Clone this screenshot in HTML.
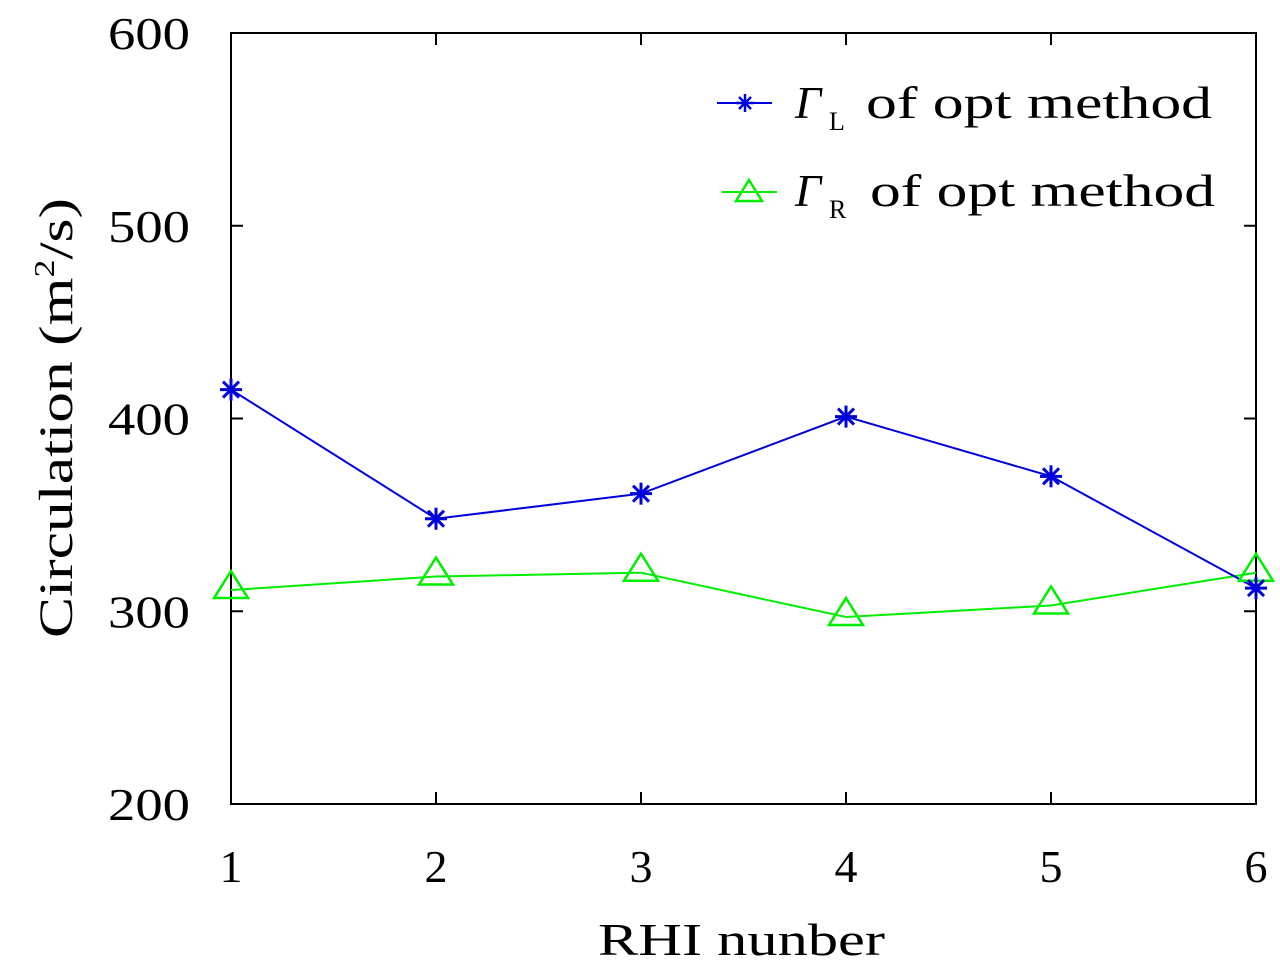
<!DOCTYPE html>
<html><head><meta charset="utf-8"><style>
html,body{margin:0;padding:0;background:#fff;}
svg{display:block;font-family:"Liberation Serif",serif;}
</style></head><body>
<svg id="chart" width="1280" height="970">
<rect x="231" y="33" width="1025" height="771" fill="none" stroke="#000" stroke-width="2"/>
<g id="ticks"></g>
<g id="series"></g>
<text x="598" y="955" font-size="46" textLength="287" lengthAdjust="spacingAndGlyphs">RHI nunber</text>
<text transform="translate(72,638) rotate(-90)" font-size="48" textLength="440" lengthAdjust="spacingAndGlyphs">Circulation (m<tspan font-size="28" dy="-18">2</tspan><tspan dy="18">/s)</tspan></text>
<g>
<g>
<line x1="717" y1="103" x2="772" y2="103" stroke="#0000dd" stroke-width="2"/>
<g stroke="#0000dd" stroke-width="2.5"><line x1="736" y1="103" x2="754" y2="103"/><line x1="745" y1="94" x2="745" y2="112"/><line x1="739" y1="97" x2="751" y2="109"/><line x1="751" y1="97" x2="739" y2="109"/></g>
<text x="795" y="118" font-size="46" font-style="italic">Γ</text>
<text x="829" y="130" font-size="26">L</text>
<text x="866" y="118" font-size="46" textLength="346" lengthAdjust="spacingAndGlyphs">of opt method</text>
</g>
<g>
<line x1="722" y1="192" x2="777" y2="192" stroke="#00ee00" stroke-width="2"/>
<polygon points="749,180 762,201 736,201" fill="none" stroke="#00ee00" stroke-width="2.5"/>
<text x="795" y="206" font-size="46" font-style="italic">Γ</text>
<text x="829" y="218" font-size="26">R</text>
<text x="870" y="206" font-size="46" textLength="345" lengthAdjust="spacingAndGlyphs">of opt method</text>
</g>
</g>
</svg>
<script>
const categories=[1,2,3,4,5,6];
const gammaL=[415,348,361,401,370,312];
const gammaR=[311,318,320,297,303,320];
const yTicks=[200,300,400,500,600];
const X0=231,X1=1256,Y0=804,Y1=33;
const xs=c=>X0+(c-1)*(X1-X0)/5;
const ys=v=>Y0-(v-200)*(Y0-Y1)/400;
const NS="http://www.w3.org/2000/svg";
const tg=document.getElementById('ticks'),sg=document.getElementById('series');
function mk(tag,at,p){const e=document.createElementNS(NS,tag);for(const k in at)e.setAttribute(k,at[k]);p.appendChild(e);return e;}
yTicks.forEach(v=>{const y=ys(v);
 let l=mk('line',{x1:X0,x2:X0+12,y1:y,y2:y,stroke:'#000','stroke-width':2},tg);
 
 
 mk('line',{x1:X1-12,x2:X1,y1:y,y2:y,stroke:'#000','stroke-width':2},tg);
 let t=mk('text',{x:108,y:y+16,'font-size':46,textLength:82,lengthAdjust:'spacingAndGlyphs'},tg);t.textContent=v;
 
 
});
categories.forEach(c=>{const x=xs(c);
 let l=mk('line',{x1:x,x2:x,y1:Y0,y2:Y0-12,stroke:'#000','stroke-width':2},tg);
 
 
 mk('line',{x1:x,x2:x,y1:Y1,y2:Y1+12,stroke:'#000','stroke-width':2},tg);
 let t=mk('text',{x:x,y:882,'font-size':46,'text-anchor':'middle'},tg);t.textContent=c;
 
 
});
function line(vals,col,name){
 const p=mk('polyline',{points:vals.map((v,i)=>xs(categories[i])+','+ys(v)).join(' '),fill:'none',stroke:col,'stroke-width':2},sg);
 
 
}
line(gammaR,'#00ee00','gamma-r-line');
line(gammaL,'#0000dd','gamma-l-line');
gammaR.forEach((v,i)=>{const x=xs(categories[i]),y=ys(v)-4;
 const p=mk('polygon',{points:`${x},${y-15} ${x+17},${y+12} ${x-17},${y+12}`,fill:'none',stroke:'#00ee00','stroke-width':2.5},sg);
 
 
});
gammaL.forEach((v,i)=>{const x=xs(categories[i]),y=ys(v);
 const g=mk('g',{stroke:'#0000dd','stroke-width':3},sg);
 
 
 mk('line',{x1:x-11,x2:x+11,y1:y,y2:y},g);
 mk('line',{x1:x,x2:x,y1:y-11,y2:y+11},g);
 mk('line',{x1:x-8,x2:x+8,y1:y-8,y2:y+8},g);
 mk('line',{x1:x+8,x2:x-8,y1:y-8,y2:y+8},g);
});
</script>
</body></html>
